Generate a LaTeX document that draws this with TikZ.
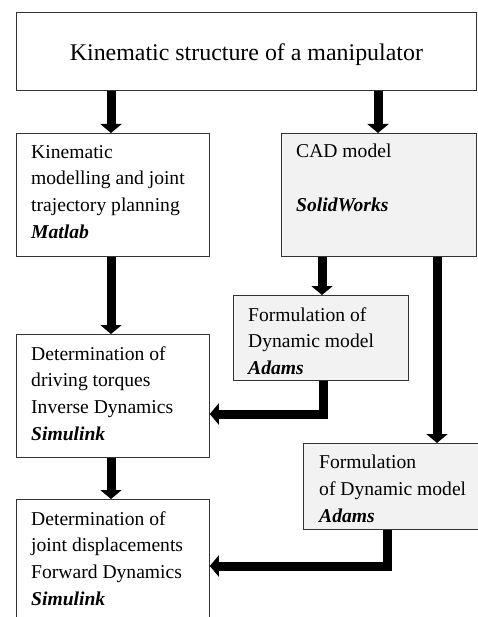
\documentclass[tikz,border=0pt]{standalone}
\usepackage{fontspec}
\setmainfont{Liberation Serif}
\usetikzlibrary{arrows.meta,calc}
\begin{document}
\begin{tikzpicture}[x=1pt,y=-1pt,
  box/.style={draw=black!80,line width=0.8pt,rectangle,inner sep=0pt,anchor=north west},
  graybox/.style={box,fill=black!5},
  txt/.style={anchor=north west,inner sep=0pt,align=left,font=\fontsize{19.6}{26.7}\selectfont},
  arr/.style={line width=9pt,line join=miter,-{Triangle[width=21pt,length=9pt]}}]
\useasboundingbox (0,0) rectangle (478,617);
\clip (0,0) rectangle (478,617);
% boxes
\node[box,minimum width=460pt,minimum height=78pt] (top) at (16,12) {};
\node[font=\fontsize{23.9}{28}\selectfont] (toptxt) at ($(top.center)+(0,3)$) {Kinematic structure of a manipulator};
\node[box,minimum width=193pt,minimum height=123pt] (kin) at (16,133) {};
\node[txt] (kintxt) at (31,145) {Kinematic\\modelling and joint\\trajectory planning\\\textbf{\textit{Matlab}}};
\node[graybox,minimum width=195pt,minimum height=123pt] (cad) at (281,133) {};
\node[txt] (cadtxt) at (296,144) {CAD model\\[26.7pt]\textbf{\textit{SolidWorks}}};
\node[graybox,minimum width=175pt,minimum height=85pt] (fa) at (233,295) {};
\node[txt] (fatxt) at (248,307) {Formulation of\\Dynamic model\\\textbf{\textit{Adams}}};
\node[box,minimum width=193pt,minimum height=123pt] (inv) at (16,334) {};
\node[txt] (invtxt) at (31,346) {Determination of\\driving torques\\Inverse Dynamics\\\textbf{\textit{Simulink}}};
\node[graybox,minimum width=175pt,minimum height=86pt] (fb) at (303,443) {};
\node[txt] (fbtxt) at (319,455) {Formulation\\of Dynamic model\\\textbf{\textit{Adams}}};
\node[box,minimum width=193pt,minimum height=140pt] (fwd) at (16,499) {};
\node[txt] (fwdtxt) at (31,511) {Determination of\\joint displacements\\Forward Dynamics\\\textbf{\textit{Simulink}}};
% connectors
\draw[arr] ($(top.south west)+(95,0)$) -- ($(kin.north west)+(95,0)$);
\draw[arr] ($(top.south west)+(362,0)$) -- ($(cad.north west)+(97,0)$);
\draw[arr] ($(kin.south west)+(95,0)$) -- ($(inv.north west)+(95,0)$);
\draw[arr] ($(inv.south west)+(95,0)$) -- ($(fwd.north west)+(95,0)$);
\draw[arr] ($(cad.south west)+(41,0)$) -- ($(fa.north west)+(89,0)$);
\draw[arr] ($(cad.south west)+(156,0)$) -- ($(fb.north west)+(134,0)$);
\draw[arr] ($(fa.south west)+(90,0)$) |- ($(inv.north east)+(0,80)$);
\draw[arr] ($(fb.south west)+(84,0)$) |- ($(fwd.north east)+(0,67)$);
\end{tikzpicture}
\end{document}
